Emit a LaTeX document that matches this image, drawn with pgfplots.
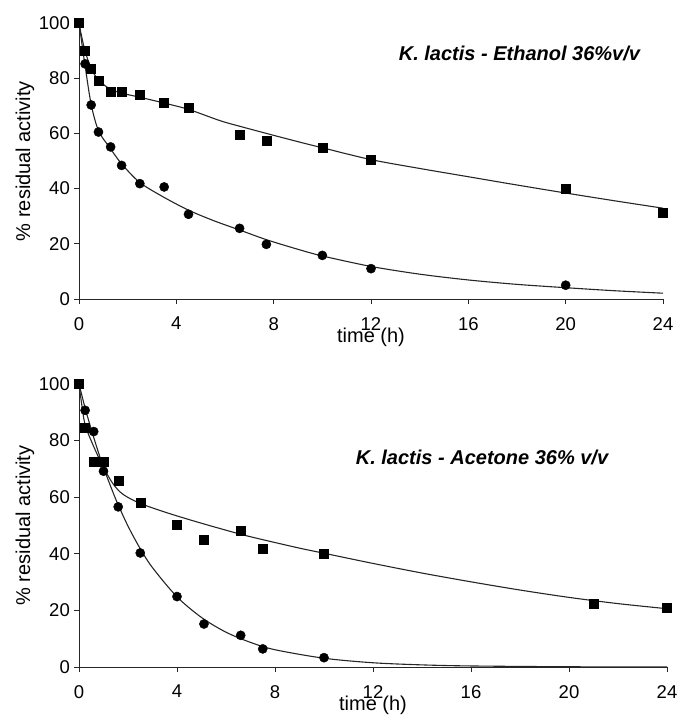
\documentclass[border=0pt]{standalone}
\usepackage{pgfplots}
\pgfplotsset{compat=1.18}
\usepackage{fontspec}
\setmainfont{Liberation Sans}
\begin{document}
\begin{tikzpicture}
\useasboundingbox (0pt,0pt) rectangle (677pt,-723pt);
\pgfplotsset{
 kstyle/.style={
  scale only axis, axis lines=left,
  axis line style={-, line width=0.9pt, black!85},
  xmin=0, xmax=24, ymin=0, ymax=100,
  xtick={0,4,...,24}, ytick={0,20,...,100},
  tick align=outside, major tick length=5pt,
  tick style={black!85, line width=0.9pt},
  tick label style={font=\fontsize{18.5}{20}\selectfont},
  /pgf/number format/assume math mode=true,
  xticklabel style={anchor=north, inner sep=0pt, yshift=-13pt},
  yticklabel style={anchor=east, inner sep=0pt, xshift=-4pt},
  label style={font=\fontsize{20}{22}\selectfont},
  xlabel={time (h)}, ylabel={\% residual activity},
  clip=false,
 },
 fit/.style={no marks, smooth, line width=1.1pt, black!85},
 sq/.style={only marks, mark=square*, mark size=4.5pt, black},
 ci/.style={only marks, mark=*, mark size=4.6pt, black},
}
% ---------------- top panel ----------------
\begin{axis}[kstyle, at={(79pt,-299pt)}, anchor=south west, width=584pt, height=276pt,
  xlabel style={at={(axis description cs:0.5,-0.138)}, anchor=center},
  ylabel style={at={(axis description cs:-0.0925,0.5)}, anchor=center}]
\addplot[fit] coordinates {(0,100)(0.1,95.5)(0.25,89.8)(0.5,83.5)(0.8,79.4)(1.25,76.2)(1.75,74.6)(2.5,73.1)(3.5,71.0)(4.5,68.7)(5.8,64.6)(6.6,62.6)(7.7,60.0)(9,57.0)(10,54.8)(12,50.5)(14,47.3)(16,44.3)(18,41.3)(20,38.4)(22,35.6)(24,32.9)};
\addplot[fit] coordinates {(0,100)(0.1,93.8)(0.25,84.5)(0.5,70.5)(0.8,61.0)(1.25,55.0)(1.75,49.0)(2.5,42.2)(3.5,36.8)(4.5,32.2)(5.5,28.5)(6.6,25.0)(7.7,21.5)(9,18.0)(10,15.6)(12,11.8)(14,9.0)(16,6.9)(18,5.3)(20,4.1)(22,3.0)(24,2.1)};
\addplot[sq] coordinates {(0,100)(0.25,90.1)(0.5,83.4)(0.8,79.2)(1.3,75.2)(1.75,75.2)(2.5,73.9)(3.5,71)(4.5,69.2)(6.6,59.4)(7.7,57.3)(10,54.9)(12,50.5)(20,39.8)(24,31.3)};
\addplot[ci] coordinates {(0,100)(0.25,85.2)(0.5,70.3)(0.8,60.5)(1.3,55.1)(1.75,48.4)(2.5,41.8)(3.5,40.6)(4.5,30.7)(6.6,25.6)(7.7,19.8)(10,15.8)(12,11.0)(20,5.0)};
\node[font=\fontsize{20}{22}\selectfont\bfseries\itshape] at (axis cs:18.1,88.8) {K. lactis - Ethanol 36\%v/v};
\end{axis}
% ---------------- bottom panel ----------------
\begin{axis}[kstyle, at={(79pt,-667pt)}, anchor=south west, width=588pt, height=283pt,
  xlabel style={at={(axis description cs:0.5,-0.134)}, anchor=center},
  ylabel style={at={(axis description cs:-0.0918,0.5)}, anchor=center}]
\addplot[fit] coordinates {(0,100)(0.1,93.5)(0.25,85.6)(0.58,78.3)(1.0,70.5)(1.4,64.6)(1.8,61.0)(2.5,57.8)(3.7,54.2)(5,50.8)(6.56,47.0)(7.5,45.0)(9,42.0)(10,40.2)(12,36.6)(14,33.2)(16,30.1)(18,27.2)(20,24.6)(22,22.4)(24,20.6)};
\addplot[fit] coordinates {(0,100)(0.25,91.5)(0.5,84)(0.75,77)(1,70.5)(1.5,59.3)(2,49.8)(2.5,41.8)(3,35.1)(4,24.8)(5,17.5)(6,12.3)(7,8.7)(8,6.1)(10,3.1)(12,1.5)(14,0.75)(16,0.37)(20,0.09)(24,0.02)};
\addplot[sq] coordinates {(0,100)(0.25,84.7)(0.6,72.5)(1.0,72.5)(1.6,66)(2.5,57.9)(4,50.4)(5.1,45.1)(6.6,48.3)(7.5,41.9)(10,40.1)(21,22.4)(24,21.0)};
\addplot[ci] coordinates {(0,100)(0.25,90.7)(0.6,83.2)(1.0,69.2)(1.6,56.6)(2.5,40.3)(4,24.9)(5.1,15.2)(6.6,11.2)(7.5,6.4)(10,3.3)};
\node[font=\fontsize{20}{22}\selectfont\bfseries\itshape] at (axis cs:16.45,73.9) {K. lactis - Acetone 36\% v/v};
\end{axis}
\end{tikzpicture}
\end{document}
